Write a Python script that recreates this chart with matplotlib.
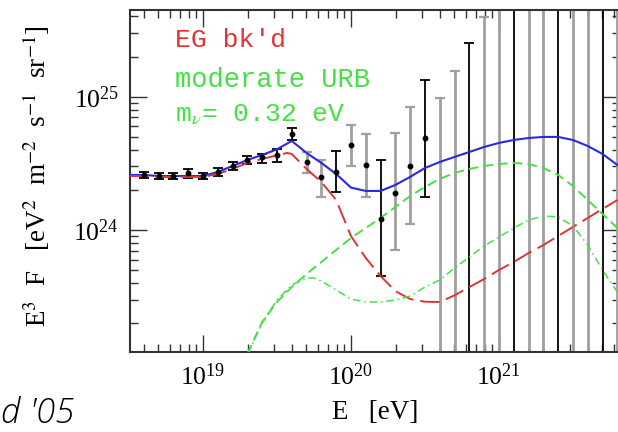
import numpy as np
import matplotlib.pyplot as plt
from matplotlib.ticker import NullFormatter

plt.rcParams['font.family'] = ['Liberation Serif', 'DejaVu Serif']
plt.rcParams['mathtext.fontset'] = 'stix'

# measured E^3 F in bins of 0.1 in log10(E/eV)
data_logE = [18.6, 18.7, 18.8, 18.9, 19.0, 19.1, 19.2, 19.3, 19.4, 19.5,
             19.6, 19.7, 19.8, 19.9, 20.0, 20.1, 20.2, 20.3, 20.4, 20.5]
data_logF = [24.413, 24.405, 24.405, 24.428, 24.405, 24.435, 24.480, 24.525, 24.548, 24.563,
             24.720, 24.510, 24.398, 24.435, 24.638, 24.488, 24.083, 24.278, 24.480, 24.690]
data_logF_hi = [24.435, 24.428, 24.428, 24.458, 24.428, 24.465, 24.510, 24.555, 24.570, 24.608,
                24.765, 24.585, 24.525, 24.593, 24.788, 24.720, 24.525, 24.728, 24.923, 25.125]
data_logF_lo = [24.390, 24.383, 24.383, 24.390, 24.383, 24.405, 24.450, 24.495, 24.503, 24.510,
                24.675, 24.428, 24.248, 24.285, 24.480, 24.248, 23.655, 23.850, 24.045, 24.248]

# bins with upper bounds only
ul_logE = [20.6, 20.7, 20.8, 20.9, 21.0, 21.1, 21.2, 21.3, 21.4, 21.5, 21.6, 21.7, 21.8]
ul_logF = [24.990, 25.193, 25.403, 25.598, 26.0, 26.0, 26.0, 26.0, 26.0, 26.0, 26.0, 26.0, 26.0]

# model curves
curve_logE = [18.5, 18.6, 18.7, 18.8, 18.9, 19.0, 19.1, 19.2, 19.3, 19.4, 19.5, 19.6,
              19.7, 19.8, 19.9, 20.0, 20.1, 20.2, 20.3, 20.4, 20.5, 20.6, 20.7, 20.8,
              20.9, 21.0, 21.1, 21.2, 21.3, 21.4, 21.5, 21.6, 21.7, 21.8]
total_logF = [24.413, 24.413, 24.405, 24.405, 24.405, 24.405, 24.435, 24.480, 24.525, 24.563,
              24.605, 24.668, 24.578, 24.503, 24.420, 24.318, 24.293, 24.293, 24.338, 24.398,
              24.465, 24.510, 24.548, 24.585, 24.623, 24.653, 24.675, 24.690, 24.698, 24.698,
              24.675, 24.630, 24.570, 24.488]

eg_logE = [18.5, 18.6, 18.7, 18.8, 18.9, 19.0, 19.1, 19.2, 19.3, 19.4, 19.5, 19.57, 19.6,
           19.7, 19.8, 19.9, 20.0, 20.1, 20.2, 20.3, 20.4, 20.5, 20.6, 20.7, 20.8,
           20.9, 21.0, 21.1, 21.2, 21.3, 21.4, 21.5, 21.6, 21.7, 21.8]
eg_logF = [24.405, 24.405, 24.398, 24.398, 24.398, 24.398, 24.420, 24.458, 24.503, 24.533,
           24.560, 24.578, 24.570, 24.458, 24.360, 24.225, 23.955, 23.790, 23.655, 23.542,
           23.482, 23.462, 23.460, 23.510, 23.572, 23.632, 23.700, 23.760, 23.827, 23.887,
           23.955, 24.023, 24.090, 24.158, 24.225]

zb_logE = [19.3, 19.4, 19.5, 19.6, 19.7, 19.8, 19.9, 20.0, 20.1, 20.2, 20.3, 20.4, 20.5,
           20.6, 20.7, 20.8, 20.9, 21.0, 21.1, 21.2, 21.3, 21.4, 21.5, 21.6, 21.7, 21.8]
urb_logF = [23.07, 23.310, 23.460, 23.572, 23.670, 23.760, 23.850, 23.940, 24.015, 24.090,
            24.173, 24.255, 24.323, 24.383, 24.428, 24.458, 24.480, 24.495, 24.503, 24.495,
            24.465, 24.413, 24.330, 24.225, 24.120, 24.015]

zb2_logE = [19.3, 19.4, 19.5, 19.6, 19.7, 19.75, 19.8, 19.9, 20.0, 20.1, 20.2, 20.3, 20.4,
            20.5, 20.6, 20.7, 20.8, 20.9, 21.0, 21.1, 21.2, 21.3, 21.4, 21.5, 21.6, 21.7, 21.8]
zb2_logF = [23.07, 23.302, 23.475, 23.587, 23.640, 23.640, 23.617, 23.550, 23.482, 23.460,
            23.460, 23.475, 23.505, 23.572, 23.625, 23.715, 23.797, 23.880, 23.947, 24.015,
            24.075, 24.105, 24.098, 24.030, 23.887, 23.700, 23.535]

RED = '#dc3536'
GREEN = '#45e045'
BLUE = '#2a2adc'
GREY = '#a0a0a0'

fig = plt.figure(figsize=(6.18, 4.32), dpi=100)
ax = fig.add_axes([130 / 618, 80 / 432, 490 / 618, 342 / 432])
ax.set_xscale('log')
ax.set_yscale('log')
ax.set_xlim(10 ** 18.507, 10 ** 21.818)
ax.set_ylim(10 ** 23.085, 10 ** 25.65)

# error bars: every third bin drawn dark
E = 10 ** np.array(data_logE)
F = 10 ** np.array(data_logF)
F_hi = 10 ** np.array(data_logF_hi)
F_lo = 10 ** np.array(data_logF_lo)
for i in range(len(E)):
    dark = data_logE[i] <= 19.6 or round(data_logE[i] * 10) % 3 == 1
    col = 'black' if dark else GREY
    ax.errorbar(E[i], F[i], yerr=[[F[i] - F_lo[i]], [F_hi[i] - F[i]]],
                fmt='none', ecolor=col, elinewidth=1.3 if dark else 2.0,
                capsize=3.8, capthick=1.3 if dark else 1.6, zorder=2)

E_ul = 10 ** np.array(ul_logE)
F_ul = 10 ** np.array(ul_logF)
ybot = ax.get_ylim()[0]
for i in range(len(E_ul)):
    dark = round(ul_logE[i] * 10) % 3 == 1
    col = 'black' if dark else GREY
    ax.vlines(E_ul[i], ybot, F_ul[i], color=col, lw=1.3 if dark else 2.0, zorder=2)
    ax.plot(E_ul[i], F_ul[i], marker='_', ms=7.6, mew=1.3 if dark else 1.6, color=col, zorder=2)

ax.plot(10 ** np.array(curve_logE), 10 ** np.array(total_logF), color=BLUE, lw=1.5, zorder=3)
ax.plot(10 ** np.array(eg_logE), 10 ** np.array(eg_logF), color=RED, lw=1.4,
        dashes=(10, 3.5), zorder=3)
ax.plot(10 ** np.array(zb_logE), 10 ** np.array(urb_logF), color=GREEN, lw=1.4,
        dashes=(5, 2.6), zorder=3)
ax.plot(10 ** np.array(zb2_logE), 10 ** np.array(zb2_logF), color=GREEN, lw=1.1,
        dashes=(5, 2.5, 1, 2.5), zorder=3)

ax.plot(E, F, 'o', color='black', ms=3.2, zorder=4)

ax.tick_params(which='both', direction='in', top=True, right=True, width=1.0, color='#333333')
ax.tick_params(which='major', length=12, labelsize=18.5, pad=8)
ax.tick_params(which='minor', length=5.5)
ax.xaxis.set_minor_formatter(NullFormatter())
ax.yaxis.set_minor_formatter(NullFormatter())
for s in ax.spines.values():
    s.set_linewidth(1.5)
    s.set_color('#333333')

ax.set_xlabel('E   [eV]', fontsize=19.5)
ax.xaxis.set_label_coords(0.5, -0.14)
ax.xaxis.label.set_va('top')
ax.set_ylabel(r'E$^3$  F   [eV$^2$  m$^{-2}$  s$^{-1}$  sr$^{-1}$]', fontsize=19.5)
ax.yaxis.set_label_coords(-0.16, 0.515)

mono = ['Liberation Mono', 'DejaVu Sans Mono']
ax.text(0.092, 0.892, "EG bk'd", transform=ax.transAxes, color=RED,
        fontsize=19, family=mono, va='baseline')
ax.text(0.092, 0.775, 'moderate URB', transform=ax.transAxes, color=GREEN,
        fontsize=19.5, family=mono, va='baseline')
ax.text(0.092, 0.673, r'm$_\nu$= 0.32 eV', transform=ax.transAxes, color=GREEN,
        fontsize=19, family=mono, va='baseline')

fig.text(0.002, 0.002, "d '05", fontsize=25, family=['Open Sans', 'DejaVu Sans'],
         style='italic', weight='light', va='bottom')

fig.savefig('out.png', dpi=100)
